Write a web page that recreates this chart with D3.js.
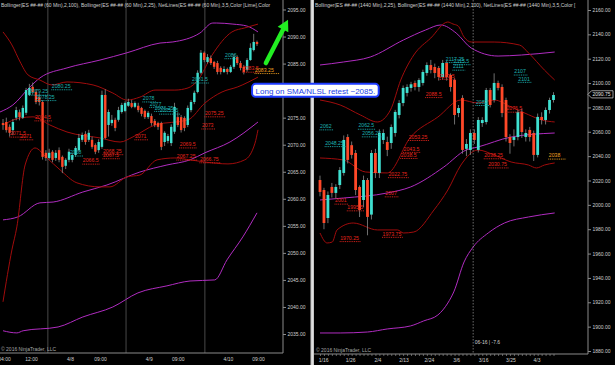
<!DOCTYPE html>
<html><head><meta charset="utf-8">
<script src="https://cdn.jsdelivr.net/npm/d3@7"></script>
<style>
html,body{margin:0;padding:0;background:#000;}
svg{display:block;font-family:"Liberation Sans",Arial,sans-serif;}
</style></head><body>
<svg id="c" width="615" height="365"></svg>
<script>
// ---------------- LEFT PANEL (60 Min) ----------------
const leftOpen  = [2074.0,2074.2,2073.3,2072.7,2075.0,2076.0,2075.0,2075.9,2079.2,2080.7,2079.75,2078.8,2077.9,2068.5,2067.55,2068.7,2067.55,2069.0,2067.75,2066.1,2067.2,2067.2,2068.1,2069.0,2070.9,2072.0,2070.9,2070.9,2069.95,2069.0,2069.6,2079.2,2073.65,2074.0,2074.6,2074.6,2076.05,2076.25,2077.2,2077.7,2077.0,2077.2,2076.8,2076.25,2075.1,2075.3,2074.4,2074.0,2074.0,2070.5,2070.7,2070.3,2072.4,2075.1,2075.1,2074.95,2073.65,2076.4,2077.9,2079.75,2083.3,2087.0,2085.3,2086.0,2085.3,2085.1,2084.2,2083.45,2084.0,2083.45,2084.4,2086.2,2085.1,2084.4,2083.8,2085.66,2087.5,2089.0];
const leftHigh  = [2074.75,2075.0,2073.75,2074.75,2077.0,2076.5,2077.25,2080.5,2081.25,2081.5,2080.25,2079.5,2078.25,2069.0,2069.25,2069.0,2069.0,2069.5,2068.0,2067.5,2069.25,2068.5,2069.75,2072.0,2072.25,2072.5,2072.75,2071.5,2070.25,2071.0,2080.0,2080.25,2076.5,2075.5,2075.0,2077.0,2077.75,2078.0,2078.5,2078.25,2078.0,2077.75,2077.0,2076.5,2076.25,2075.75,2074.75,2074.25,2074.25,2072.5,2072.0,2073.75,2077.75,2076.0,2075.5,2075.25,2077.25,2078.25,2080.0,2083.75,2087.5,2087.25,2086.75,2086.5,2085.5,2085.5,2084.5,2084.5,2084.25,2084.75,2086.75,2086.5,2085.5,2084.75,2086.0,2088.75,2090.5,2089.25];
const leftLow   = [2072.75,2072.25,2071.5,2071.75,2074.5,2074.5,2074.75,2075.5,2079.0,2079.25,2077.5,2077.25,2067.25,2067.0,2067.25,2066.75,2067.0,2066.75,2064.75,2065.5,2066.75,2066.75,2067.75,2068.75,2070.5,2070.0,2070.5,2069.25,2068.25,2068.5,2069.25,2071.0,2071.5,2073.5,2072.5,2074.25,2075.75,2076.0,2077.0,2076.75,2076.75,2076.0,2075.25,2074.75,2074.75,2073.5,2073.25,2072.75,2069.0,2069.75,2070.25,2069.75,2072.0,2073.25,2072.25,2072.5,2073.25,2076.0,2077.5,2079.5,2083.0,2085.25,2085.0,2084.75,2084.0,2083.0,2083.0,2083.25,2083.0,2083.25,2084.0,2084.75,2083.75,2083.0,2083.5,2085.5,2087.25,2088.25];
const leftClose = [2073.65,2072.7,2072.2,2074.2,2076.4,2075.1,2076.8,2080.1,2080.5,2079.75,2077.9,2077.9,2067.75,2067.55,2068.5,2067.2,2068.5,2067.2,2065.9,2067.2,2068.7,2068.1,2069.4,2071.25,2071.8,2070.5,2072.2,2069.6,2068.7,2070.5,2079.2,2071.25,2076.05,2074.6,2073.1,2076.4,2077.35,2077.7,2077.9,2077.0,2077.7,2076.4,2075.7,2075.1,2075.9,2074.0,2073.65,2073.3,2069.6,2072.2,2071.6,2073.3,2077.0,2073.65,2072.7,2073.1,2076.8,2077.9,2079.6,2083.3,2087.0,2085.66,2086.2,2085.1,2084.4,2083.45,2083.45,2084.0,2083.45,2084.4,2086.2,2085.1,2084.2,2083.45,2085.66,2087.9,2089.0,2088.6];

const leftPriceTicks = [2095,2090,2085,2080,2075,2070,2065,2060,2055,2050,2045,2040,2035];
const leftTimeLabels = ["04:00","12:00","4/8","09:00","4/9","09:00","4/10","09:00"];
const leftTimeIdx    = [0.3,8.5,20.3,29.4,44.2,53,68.2,77.3];
const leftSessionIdx = [13.6,37.3,61.2];

// Bollinger(2,100) magenta, Bollinger(2,25) dark red  [bar index, price]
const leftBB100Upper = [[-0.9,2076.05],[3,2077.35],[8.2,2080.7],[11.2,2082.35],[19.4,2084.2],[29.4,2085.65],[37.6,2087.0],[47.6,2088.8],[51.5,2089.0],[59.7,2090.65],[63.6,2092.5],[64.8,2092.5],[69.7,2092.3],[73.9,2091.95],[77.3,2090.85]];
const leftBB100Mid   = [[0,2056.1],[4.5,2056.65],[11.2,2059.25],[15.2,2059.4],[24.2,2061.25],[31.5,2062.55],[41.5,2064.95],[49.7,2066.25],[56.7,2067.2],[61.2,2068.5],[68.8,2070.5],[77.3,2074.2]];
const leftBB100Lower = [[0,2035.6],[4.2,2035.2],[6.1,2035.6],[16.7,2036.3],[24.2,2038.15],[33.3,2040.0],[40.9,2042.6],[49.7,2043.9],[56.7,2044.8],[64.2,2045.0],[67.9,2048.7],[72.7,2052.95],[77,2057.4]];
const leftBB25Upper  = [[0,2090.85],[2.7,2088.45],[5.2,2085.3],[7.6,2082.9],[11.2,2081.95],[14.8,2081.05],[19.4,2081.6],[27.3,2081.05],[33.3,2079.55],[37.6,2078.25],[41.5,2078.8],[46.1,2080.1],[52.1,2080.1],[56.1,2080.5],[59.1,2081.95],[63.3,2086.5],[69.4,2090.85],[73.3,2091.6],[77.3,2092.3]];
const leftBB25Mid    = [[0,2073.65],[5.2,2074.95],[9.1,2075.15],[14.2,2073.65],[19.4,2072.35],[29.4,2071.25],[35.5,2070.5],[39.4,2071.45],[46.1,2073.65],[56.1,2074.6],[61.2,2077.7],[66.4,2079.75],[71.2,2080.7],[77.3,2082.5]];
const leftBB25Lower  = [[0,2040.95],[2.7,2050.55],[4.2,2054.8],[6.7,2066.25],[9.7,2069.4],[13.3,2067.55],[17.3,2065.35],[22.4,2062.95],[29.4,2062.2],[32.4,2062.2],[37.6,2064.05],[41.5,2064.4],[46.7,2067.2],[52.1,2067.55],[56.7,2067.2],[61.2,2066.8],[68.2,2066.45],[73.3,2067.2],[76.4,2070.3],[77.3,2072.75]];

// NetLines labels [text, start bar index, price, kind]
const leftNetLines = [
  ["2080.25",14.8,2080.25,"s"],["2079.25",8,2079.25,"s"],["2078.25",10,2078.25,"s"],
  ["2074.5",9.7,2074.5,"r"],["2071.5",2.1,2071.5,"r"],["2071",5.2,2071,"r"],
  ["2068",20.3,2068,"s"],["2066.5",24.2,2066.5,"r"],["2068.25",30.3,2068.25,"r"],["2067.5",30.3,2067.5,"r"],
  ["2078",42.4,2078,"s"],["2077",44.5,2077,"s"],["2076.25",46,2076.25,"s"],["2075.75",47.5,2075.75,"s"],
  ["2071",40,2071,"r"],["2069.5",53.6,2069.5,"r"],["2067.25",52.7,2067.25,"r"],["2066.75",59.7,2066.75,"r"],
  ["2075.25",61.2,2075.25,"r"],["2073",60.3,2073,"r"],["2081.5",57.3,2081.5,"s"],["2086",67.3,2086,"s"],
  ["2083.5",72.7,2083.5,"r"],["2083.25",76.4,2083.25,"o"]
];

// ---------------- RIGHT PANEL (1440 Min) ----------------
const rightOpen  = [2020.4,2012.2,1989.2,2014.7,2009.8,2016.3,2026.2,2055.7,2049,2042.6,2014.7,2004,2020.4,1992,2042.6,2026.2,2053.3,2051.6,2050.8,2059,2073.8,2083.6,2091.9,2096,2100.1,2096.8,2100.1,2108.3,2114.8,2113.2,2112.4,2105,2116.5,2106.6,2102.5,2075.4,2087.8,2046,2045.1,2059,2045.1,2067.2,2068,2094.3,2086.1,2100.1,2096.8,2086.1,2055.7,2053.3,2055.7,2076.3,2055.7,2061.5,2059,2041,2072.2,2069.7,2077.9,2086.1];
const rightHigh  = [2024,2014,2011,2018,2017,2031,2057,2058,2052,2045,2016,2024,2022,2045,2046,2062,2062,2056,2066,2078,2086,2098,2099,2101,2102,2104,2111,2117,2119,2116,2114,2119,2118,2108,2104,2082,2090,2054,2062,2062,2072,2072,2096,2096,2108,2102,2099,2088,2058,2062,2078,2079,2062,2064,2061,2075,2076,2080,2088,2092.5];
const rightLow   = [2007,1980,1985,2006,2005,2013,2024,2034,2038,2008,1990,1998,1975,1988,2022,2022,2050,2040,2046,2056,2071,2081,2089,2093,2094,2093,2098,2106,2108,2104,2102,2103,2102,2093,2066,2072,2042,2040,2041,2050,2043,2064,2066,2080,2084,2094,2072,2052,2042,2048,2053,2055,2052,2052,2036,2039,2066,2066,2075,2084];
const rightClose = [2010.6,1985.1,2008.1,2009.8,2014.7,2028.6,2053.3,2036.9,2041,2012.2,1995.8,2020.4,1990.1,2042.6,2026.2,2059,2059,2045.1,2063.9,2076.3,2083.6,2096,2096.8,2099,2096.8,2102.5,2109.1,2114.8,2110.7,2108.3,2105,2116.5,2105,2096.8,2073.8,2079.5,2045.1,2050,2059,2053.3,2069.7,2069.7,2094.3,2082,2100.1,2096,2075.4,2055.7,2050.8,2055.7,2076.3,2059.8,2059,2055.7,2041,2072.2,2069.7,2077.9,2086.1,2090.2];

const rightPriceTicks = [2160,2140,2120,2100,2080,2060,2040,2020,2000,1980,1960,1940,1920,1900,1880];
const rightTimeLabels = ["1/16","1/26","2/4","2/13","2/24","3/6","3/16","3/25","4/3"];
const rightTimeIdx    = [0.8,7.6,14.5,21.1,27.5,34.4,41.2,48.1,54.7];
const rightLastPrice  = 2090.75;
const rightCursorIdx  = 38.7;
const rightCursorText = "06-16 | -7.6";

const rightBB100Upper = [[0,2114.85],[5.9,2117.3],[12.7,2121.4],[21.1,2135.4],[26.7,2143.6],[30.5,2147.7],[34.4,2141.1],[38.2,2128.8],[45,2122.2],[50.9,2123.05],[59.3,2125.5]];
const rightBB100Mid   = [[0,2004.0],[5.9,2005.6],[17,2009.75],[22.9,2014.7],[31.3,2031.1],[36.9,2045.0],[39.9,2047.5],[48.3,2055.7],[59.3,2059.0]];
const rightBB100Lower = [[0,1894.8],[5.1,1894.8],[12,1895.6],[17,1898.1],[22.9,1900.6],[26.2,1904.7],[29.8,1909.6],[32.3,1919.4],[33.8,1928.5],[36.4,1953.1],[38.7,1965.4],[42.5,1976.9],[46.6,1985.1],[52.7,1990.05],[59.3,1993.35]];
const rightBB25Upper  = [[0,2086.1],[5.1,2082.0],[10.2,2073.8],[14.5,2068.05],[17.8,2077.9],[20.4,2102.5],[23.7,2123.05],[28,2137.0],[32.3,2150.15],[33.6,2148.5],[34.9,2146.9],[36.4,2137.8],[38.2,2133.7],[44,2133.7],[50.4,2131.25],[52.7,2124.7],[56.7,2110.7],[59.3,2102.5]];
const rightBB25Mid    = [[0,2038.5],[5.9,2036.85],[11.5,2027.0],[17,2026.2],[22.9,2055.7],[29.8,2072.15],[35.6,2086.1],[39.9,2083.65],[44,2086.1],[48.3,2080.4],[52.7,2074.0],[56,2069.7],[59.3,2068.05]];
const rightBB25Lower  = [[0,1976.9],[1.8,1968.7],[3.1,1969.5],[4.3,1979.4],[8.4,1985.1],[14.5,1979.4],[19.6,1979.4],[21.1,1976.9],[23.7,1977.7],[28.8,1995.8],[32.3,2012.2],[35.6,2032.7],[39.9,2045.05],[44,2040.95],[48.3,2035.2],[52.7,2032.7],[54.7,2030.3],[56.7,2032.7],[59.3,2034.4]];

const rightNetLines = [
  ["2062",0,2062,"s"],["2048.25",1.3,2048.25,"s"],["2062.5",9.7,2062.5,"s"],["2056.25",10.7,2056.25,"s"],
  ["2117.25",31.8,2117.25,"s"],["2115.5",33.8,2115.5,"s"],["2111",33.6,2111,"s"],
  ["2103.5",30,2103.5,"r"],["2088.5",26.7,2088.5,"r"],["2053.25",22.4,2053.25,"r"],["2043.5",21.1,2043.5,"r"],
  ["2038.5",20.4,2038.5,"r"],["2022.75",17.3,2022.75,"r"],["2007",16.5,2007,"r"],["2001",3.8,2001,"r"],
  ["1995.5",6.9,1995.5,"r"],["1970.25",5.1,1970.25,"r"],["1973.75",15.8,1973.75,"r"],
  ["2107",49.1,2107,"s"],["2101",50.1,2101,"s"],["2082",39.4,2082,"s"],["2076.5",47.1,2076.5,"r"],
  ["2038.25",41.5,2038.25,"r"],["2030.75",42.5,2030.75,"r"],["2038",57.8,2038,"o"]
];

const leftLegend  = "Bollinger(ES ##-## (60 Min),2,100), Bollinger(ES ##-## (60 Min),2,25), NetLines(ES ##-## (60 Min),3,5,Color [Lime],Color";
const rightLegend = "Bollinger(ES ##-## (1440 Min),2,25), Bollinger(ES ##-## (1440 Min),2,100), NetLines(ES ##-## (1440 Min),3,5,Color [";
const copyright = "\u00a9 2016 NinjaTrader, LLC";
const noteText = "Long on SMA/NLSL retest ~2085.";
// annotation anchors in left-panel data units [bar index, price]
const arrowTail = [79.7, 2085.1], arrowTip = [86.4, 2093.1];
const noteBox = [75.5, 2081.25, 113.9, 2078.85];

// ---------------- DRAWING ----------------
const C = {up:"#3fe0d0", down:"#ff4828", wick:"#8c8c8c", mag:"#b02cc0", red:"#a00c0c",
           s:"#1cb0b0", r:"#e4241c", o:"#f0a020", axis:"#8a8a8a", text:"#cfcfcf"};
const svg = d3.select("#c");
svg.append("rect").attr("width",615).attr("height",365).attr("fill","#000");
const defs = svg.append("defs");
defs.append("clipPath").attr("id","clipL").append("rect").attr("x",0).attr("y",0).attr("width",283).attr("height",353);
defs.append("clipPath").attr("id","clipR").append("rect").attr("x",314).attr("y",0).attr("width",274).attr("height",353);

const xL = d3.scaleLinear().domain([0,77]).range([3,257]);
const yL = d3.scaleLinear().domain([2035,2095]).range([334,9.5]);
const xR = d3.scaleLinear().domain([0,59]).range([320,553.5]);
const yR = d3.scaleLinear().domain([1880,2160]).range([351,10]);

function panel(opts){
  const {x,y,clip,O,H,L,Cl,bands,net,sessions,axisX,bottom,ticks,tLabels,tIdx,legend,legX,copyX,barTicks,bw} = opts;
  const g = svg.append("g").attr("clip-path",`url(#${clip})`);
  (sessions||[]).forEach(s=>{
    g.append("line").attr("x1",x(s)).attr("x2",x(s)).attr("y1",0).attr("y2",bottom)
     .attr("stroke","#5a5a5a").attr("stroke-width",0.8);
  });
  const line = d3.line().x(d=>x(d[0])).y(d=>y(d[1])).curve(d3.curveMonotoneX);
  bands.forEach(b=>{
    g.append("path").attr("d",line(b.d)).attr("fill","none").attr("stroke",b.c).attr("stroke-width",1);
  });
  const idx = d3.range(O.length);
  g.selectAll(null).data(idx).join("line")
    .attr("x1",i=>x(i)).attr("x2",i=>x(i)).attr("y1",i=>y(H[i])).attr("y2",i=>y(L[i]))
    .attr("stroke",C.wick).attr("stroke-width",0.8);
  g.selectAll(null).data(idx).join("rect")
    .attr("x",i=>x(i)-bw/2).attr("width",bw)
    .attr("y",i=>y(Math.max(O[i],Cl[i])))
    .attr("height",i=>Math.max(1,Math.abs(y(O[i])-y(Cl[i]))))
    .attr("fill",i=>Cl[i]>=O[i]?C.up:C.down);
  net.forEach(n=>{
    const t = g.append("text").attr("x",x(n[1])).attr("y",y(n[2])-1.3)
      .attr("font-size",5.2).attr("fill",C[n[3]]).text(n[0]);
    const w = t.node().getComputedTextLength();
    const extra = n[3]==="o" ? 6 : 1.5;
    g.append("line").attr("x1",x(n[1])-0.5).attr("x2",x(n[1])+w+extra)
      .attr("y1",y(n[2])+0.5).attr("y2",y(n[2])+0.5)
      .attr("stroke",C[n[3]]).attr("stroke-width",0.9).attr("stroke-dasharray","1,0.8");
  });
  const ax = svg.append("g").attr("transform",`translate(${axisX},0)`)
    .call(d3.axisRight(y).tickValues(ticks).tickSize(3).tickPadding(1.5).tickFormat(d3.format(".2f")));
  ax.select(".domain").remove();
  ax.selectAll("line").attr("stroke",C.axis);
  ax.selectAll("text").attr("fill",C.text).attr("font-size",5).attr("font-family","Liberation Sans, Arial");
  svg.append("line").attr("x1",axisX).attr("x2",axisX).attr("y1",0).attr("y2",bottom).attr("stroke",C.axis).attr("stroke-width",1);
  svg.append("line").attr("x1",legX-1).attr("x2",axisX).attr("y1",bottom).attr("y2",bottom).attr("stroke",C.axis).attr("stroke-width",1);
  if(barTicks){
    const bt = svg.append("g").attr("transform",`translate(0,${bottom})`)
      .call(d3.axisBottom(x).tickValues(d3.range(O.length)).tickSize(2).tickFormat(""));
    bt.select(".domain").remove();
    bt.selectAll("line").attr("stroke",C.axis).attr("stroke-width",0.7);
  }
  const tx = svg.append("g").attr("transform",`translate(0,${bottom})`)
    .call(d3.axisBottom(x).tickValues(tIdx).tickSize(0).tickPadding(4).tickFormat((d,i)=>tLabels[i]));
  tx.select(".domain").remove();
  tx.selectAll("text").attr("fill",C.text).attr("font-size",5).attr("font-family","Liberation Sans, Arial");
  svg.append("text").attr("x",legX).attr("y",7).attr("font-size",5).attr("fill",C.text).text(legend);
  svg.append("text").attr("x",copyX).attr("y",bottom-2).attr("font-size",5).attr("fill","#a8a8a8").text(copyright);
  return g;
}

panel({x:xL,y:yL,clip:"clipL",O:leftOpen,H:leftHigh,L:leftLow,Cl:leftClose,bw:2.4,
  bands:[{d:leftBB100Upper,c:C.mag},{d:leftBB100Mid,c:C.mag},{d:leftBB100Lower,c:C.mag},
         {d:leftBB25Upper,c:C.red},{d:leftBB25Mid,c:C.red},{d:leftBB25Lower,c:C.red}],
  net:leftNetLines,sessions:leftSessionIdx,axisX:283,bottom:353,ticks:leftPriceTicks,
  tLabels:leftTimeLabels,tIdx:leftTimeIdx,legend:leftLegend,legX:1,copyX:1,barTicks:false});

const gR = panel({x:xR,y:yR,clip:"clipR",O:rightOpen,H:rightHigh,L:rightLow,Cl:rightClose,bw:2.8,
  bands:[{d:rightBB100Upper,c:C.mag},{d:rightBB100Mid,c:C.mag},{d:rightBB100Lower,c:C.mag},
         {d:rightBB25Upper,c:C.red},{d:rightBB25Mid,c:C.red},{d:rightBB25Lower,c:C.red}],
  net:rightNetLines,sessions:[],axisX:588,bottom:354,ticks:rightPriceTicks,
  tLabels:rightTimeLabels,tIdx:rightTimeIdx,legend:rightLegend,legX:315,copyX:316,barTicks:true});

gR.append("line").attr("x1",xR(rightCursorIdx)).attr("x2",xR(rightCursorIdx)).attr("y1",0).attr("y2",354)
  .attr("stroke","#9a9a9a").attr("stroke-width",0.7).attr("stroke-dasharray","1.5,1.5");
gR.append("text").attr("x",xR(rightCursorIdx)+1.5).attr("y",344).attr("font-size",5).attr("fill",C.text).text(rightCursorText);

const lpY = yR(rightLastPrice);
svg.append("path").attr("d",`M588,${lpY} L591.5,${lpY-3.6} L613,${lpY-3.6} L613,${lpY+3.6} L591.5,${lpY+3.6} Z`)
  .attr("fill","#000").attr("stroke","#d8d8d8").attr("stroke-width",0.7);
svg.append("text").attr("x",592.5).attr("y",lpY+1.8).attr("font-size",5).attr("fill","#e0e0e0").text(rightLastPrice.toFixed(2));

svg.append("rect").attr("x",310.5).attr("y",0).attr("width",3.5).attr("height",365).attr("fill","#c4c4c4");
svg.append("line").attr("x1",312.2).attr("x2",312.2).attr("y1",0).attr("y2",365).attr("stroke","#ececec").attr("stroke-width",1);

const ax0 = xL(arrowTail[0]), ay0 = yL(arrowTail[1]), ax1 = xL(arrowTip[0]), ay1 = yL(arrowTip[1]);
const dx = ax1-ax0, dy = ay1-ay0, len = Math.hypot(dx,dy), ux = dx/len, uy = dy/len;
const hl = 11, hw = 6;
const bx = ax1-ux*hl, by = ay1-uy*hl;
svg.append("line").attr("x1",ax0).attr("y1",ay0).attr("x2",bx+ux*1).attr("y2",by+uy*1)
  .attr("stroke","#22ee22").attr("stroke-width",4.5).attr("stroke-linecap","round");
svg.append("path").attr("d",`M${ax1},${ay1} L${bx-uy*hw},${by+ux*hw} L${bx+uy*hw},${by-ux*hw} Z`).attr("fill","#22ee22");

const nx0 = xL(noteBox[0]), ny0 = yL(noteBox[1]), nx1 = xL(noteBox[2]), ny1 = yL(noteBox[3]);
svg.append("rect").attr("x",nx0).attr("y",ny0).attr("width",nx1-nx0).attr("height",ny1-ny0)
  .attr("rx",3.5).attr("fill","#ffffff").attr("stroke","#1f3cff").attr("stroke-width",2);
svg.append("text").attr("x",(nx0+nx1)/2).attr("y",ny1-3).attr("text-anchor","middle")
  .attr("font-size",8).attr("fill","#2040e8").text(noteText);
</script></body></html>
